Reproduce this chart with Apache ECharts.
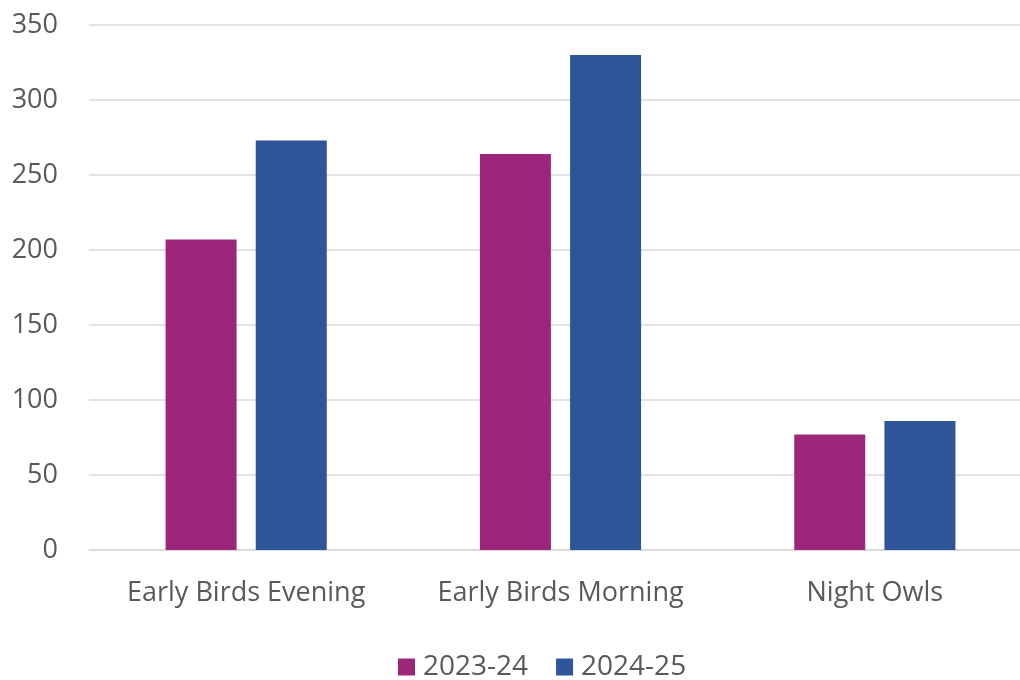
<!DOCTYPE html>
<html>
<head>
<meta charset="utf-8">
<script src="https://cdn.jsdelivr.net/npm/echarts@6/dist/echarts.min.js"></script>
<style>html,body{margin:0;padding:0;background:#fff}#c{width:1020px;height:680px}</style>
</head>
<body>
<div id="c"></div>
<script>
const categories = ['Early Birds Evening', 'Early Birds Morning', 'Night Owls'];
const seriesNames = ['2023-24', '2024-25'];
const values2023 = [207, 264, 77];
const values2024 = [273, 330, 86];
const yTicks = [0, 50, 100, 150, 200, 250, 300, 350];

const font = '"Open Sans", sans-serif';
const chart = echarts.init(document.getElementById('c'));
chart.setOption({
  animation: false,
  textStyle: { fontFamily: font },
  grid: { left: 89, width: 943, top: 25, bottom: 130, outerBoundsMode: 'none', containLabel: false },
  legend: {
    top: 648, left: 393,
    itemWidth: 17, itemHeight: 17, itemGap: 28,
    icon: 'rect',
    textStyle: { fontSize: 28, color: '#595959', fontFamily: font, padding: [0, 0, 0, 3] },
    data: seriesNames
  },
  xAxis: {
    type: 'category', data: categories,
    axisLine: { lineStyle: { color: '#d9d9d9', width: 1.5 } },
    axisTick: { show: false },
    axisLabel: { fontSize: 27, color: '#595959', margin: 30, fontFamily: font, interval: 0, hideOverlap: false }
  },
  yAxis: {
    type: 'value', min: yTicks[0], max: yTicks[yTicks.length - 1], interval: 50,
    axisLine: { show: false }, axisTick: { show: false },
    splitLine: { lineStyle: { color: '#d9d9d9', width: 1.5 } },
    axisLabel: { fontSize: 27, color: '#595959', margin: 31, fontFamily: font }
  },
  series: [
    { name: seriesNames[0], type: 'bar', data: values2023, barWidth: 71, barGap: '27%', itemStyle: { color: '#9C267A' } },
    { name: seriesNames[1], type: 'bar', data: values2024, barWidth: 71, barGap: '27%', itemStyle: { color: '#2E5597' } }
  ]
});
</script>
</body>
</html>
